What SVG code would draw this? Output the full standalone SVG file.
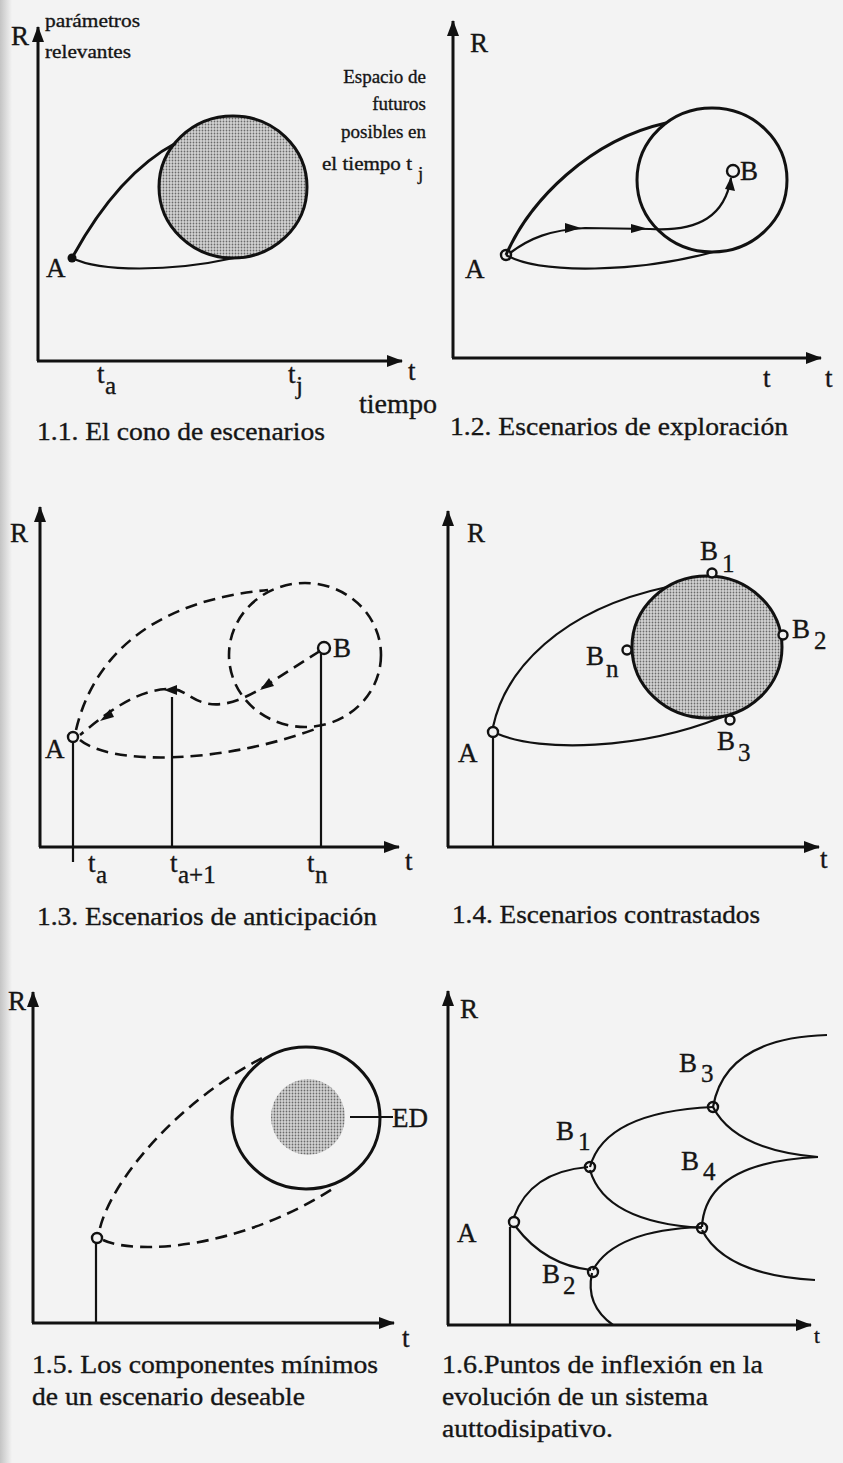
<svg xmlns="http://www.w3.org/2000/svg" width="843" height="1463" viewBox="0 0 843 1463">
<defs>
<linearGradient id="edge" x1="0" y1="0" x2="1" y2="0">
<stop offset="0" stop-color="#c4c4c4"/>
<stop offset="1" stop-color="#f3f3f3"/>
</linearGradient>
<pattern id="dots" width="3" height="3" patternUnits="userSpaceOnUse">
<rect width="3" height="3" fill="#d4d4d4"/>
<circle cx="1.5" cy="1.5" r="0.9" fill="#6a6a6a"/>
</pattern>
<marker id="arr" markerUnits="userSpaceOnUse" markerWidth="16" markerHeight="12" refX="15" refY="6" orient="auto">
<path d="M0,0 L16,6 L0,12 Z" fill="#111"/>
</marker>
<style>
text{font-family:"Liberation Serif","Times New Roman",serif;fill:#151515;stroke:#151515;stroke-width:0.35}
.ax{stroke:#111;stroke-width:3;fill:none;marker-end:url(#arr)}
.ln{stroke:#111;stroke-width:2.2;fill:none}
.th{stroke:#111;stroke-width:3;fill:none}
.dash{stroke:#111;stroke-width:2.6;fill:none;stroke-dasharray:12 7}
.pt{fill:#f3f3f3;stroke:#111;stroke-width:2.4}
.big{font-size:27px}
.sub{font-size:25px}
.cap{font-size:26px}
.sm{font-size:19px}
.ah{fill:#111}
</style>
</defs>
<rect width="843" height="1463" fill="#f3f3f3"/>
<rect width="12" height="1463" fill="url(#edge)"/>

<!-- Figure 1.1 -->
<g id="fig1-1">
<g id="f1-axes"><line class="ax" x1="38" y1="361" x2="38" y2="27"/><line class="ax" x1="37" y1="361" x2="402" y2="361"/></g>
<g id="f1-space"><ellipse cx="233" cy="187" rx="74" ry="71" fill="url(#dots)" stroke="#111" stroke-width="3"/></g>
<g id="f1-A"><circle cx="72" cy="258" r="4.5" fill="#111"/><text class="big" x="46" y="277">A</text></g>
<text class="big" x="11" y="45">R</text>
<text class="sm" x="45" y="27" textLength="95" lengthAdjust="spacingAndGlyphs">parámetros</text>
<text class="sm" x="45" y="58" textLength="86" lengthAdjust="spacingAndGlyphs">relevantes</text>
<text class="sm" x="426" y="83" text-anchor="end">Espacio de</text>
<text class="sm" x="426" y="110" text-anchor="end">futuros</text>
<text class="sm" x="426" y="138" text-anchor="end">posibles en</text>
<text class="sm" x="322" y="170" textLength="90" lengthAdjust="spacingAndGlyphs">el tiempo t</text><text class="sm" x="418" y="180">j</text>
<text class="big" x="97" y="383">t</text><text class="sub" x="105" y="394">a</text>
<text class="big" x="288" y="383">t</text><text class="sub" x="296" y="394">j</text>
<text class="big" x="408" y="380">t</text>
<text class="big" x="359" y="413" textLength="78" lengthAdjust="spacingAndGlyphs">tiempo</text>
<text class="cap" x="37" y="440" textLength="288" lengthAdjust="spacingAndGlyphs">1.1. El cono de escenarios</text>
</g>

<!-- Figure 1.2 -->
<g id="fig1-2">
<g id="f2-axes"><line class="ax" x1="453" y1="358" x2="453" y2="21"/><line class="ax" x1="452" y1="358" x2="821" y2="358"/></g>
<g id="f2-space"><ellipse cx="712" cy="180" rx="75" ry="72" fill="none" stroke="#111" stroke-width="3"/></g>
<g id="f2-A"><circle class="pt" cx="506" cy="255" r="5"/><text class="big" x="465" y="278">A</text></g>
<g id="f2-B"><circle class="pt" cx="733" cy="171" r="6"/><text class="big" x="740" y="180">B</text></g>
<text class="big" x="470" y="52">R</text>
<text class="big" x="763" y="387">t</text>
<text class="big" x="825" y="387">t</text>
<text class="cap" x="450" y="435" textLength="338" lengthAdjust="spacingAndGlyphs">1.2. Escenarios de exploración</text>
</g>

<!-- Figure 1.3 -->
<g id="fig1-3">
<g id="f3-axes"><line class="ax" x1="40" y1="847" x2="40" y2="507"/><line class="ax" x1="39" y1="847" x2="399" y2="847"/></g>
<g id="f3-space"><ellipse class="dash" cx="305" cy="655" rx="76" ry="72" stroke-width="3" stroke-dasharray="16 8"/></g>
<g id="f3-A"><circle class="pt" cx="73" cy="737" r="5"/><text class="big" x="45" y="758">A</text></g>
<g id="f3-B"><circle class="pt" cx="324" cy="648" r="6"/><text class="big" x="333" y="657">B</text></g>
<text class="big" x="10" y="542">R</text>
<text class="big" x="88" y="872">t</text><text class="sub" x="96" y="883">a</text>
<text class="big" x="170" y="872">t</text><text class="sub" x="178" y="883">a+1</text>
<text class="big" x="307" y="872">t</text><text class="sub" x="315" y="883">n</text>
<text class="big" x="405" y="870">t</text>
<text class="cap" x="37" y="925" textLength="340" lengthAdjust="spacingAndGlyphs">1.3. Escenarios de anticipación</text>
</g>

<!-- Figure 1.4 -->
<g id="fig1-4">
<g id="f4-axes"><line class="ax" x1="448" y1="847" x2="448" y2="511"/><line class="ax" x1="447" y1="847" x2="819" y2="847"/></g>
<g id="f4-space"><ellipse cx="707" cy="647" rx="75" ry="71" fill="url(#dots)" stroke="#111" stroke-width="3"/></g>
<g id="f4-A"><circle class="pt" cx="493" cy="732" r="5"/><text class="big" x="458" y="762">A</text></g>
<g id="f4-B1"><circle class="pt" cx="712" cy="573" r="4.5"/><text class="big" x="700" y="560">B</text><text class="sub" x="722" y="572">1</text></g>
<g id="f4-B2"><circle class="pt" cx="783" cy="635" r="4.5"/><text class="big" x="792" y="638">B</text><text class="sub" x="814" y="649">2</text></g>
<g id="f4-Bn"><circle class="pt" cx="627" cy="650" r="4.5"/><text class="big" x="586" y="665">B</text><text class="sub" x="606" y="677">n</text></g>
<g id="f4-B3"><circle class="pt" cx="730" cy="720" r="4.5"/><text class="big" x="717" y="750">B</text><text class="sub" x="738" y="761">3</text></g>
<text class="big" x="467" y="542">R</text>
<text class="big" x="820" y="868">t</text>
<text class="cap" x="452" y="923" textLength="308" lengthAdjust="spacingAndGlyphs">1.4. Escenarios contrastados</text>
</g>

<!-- Figure 1.5 -->
<g id="fig1-5">
<g id="f5-axes"><line class="ax" x1="33" y1="1323" x2="33" y2="992"/><line class="ax" x1="32" y1="1323" x2="394" y2="1323"/></g>
<g id="f5-space"><ellipse cx="306" cy="1118" rx="74" ry="71" fill="none" stroke="#111" stroke-width="3"/><ellipse cx="308" cy="1117" rx="37" ry="38" fill="url(#dots)"/></g>
<g id="f5-ED"><line class="ln" x1="350" y1="1117" x2="393" y2="1117"/><text class="big" x="392" y="1127">ED</text></g>
<g id="f5-A"><circle class="pt" cx="97" cy="1238" r="5"/></g>
<text class="big" x="8" y="1010">R</text>
<text class="big" x="402" y="1347">t</text>
<text class="cap" x="32" y="1373" textLength="346" lengthAdjust="spacingAndGlyphs">1.5. Los componentes mínimos</text>
<text class="cap" x="32" y="1405" textLength="273" lengthAdjust="spacingAndGlyphs">de un escenario deseable</text>
</g>

<!-- Figure 1.6 -->
<g id="fig1-6">
<g id="f6-axes"><line class="ax" x1="448" y1="1325" x2="448" y2="991"/><line class="ax" x1="447" y1="1325" x2="811" y2="1325"/></g>
<g id="f6-A"><circle class="pt" cx="514" cy="1222" r="5"/><text class="big" x="457" y="1242">A</text></g>
<g id="f6-B1"><circle class="pt" cx="590" cy="1167" r="5"/><text class="big" x="556" y="1140">B</text><text class="sub" x="578" y="1150">1</text></g>
<g id="f6-B2"><circle class="pt" cx="593" cy="1272" r="5"/><text class="big" x="542" y="1283">B</text><text class="sub" x="563" y="1294">2</text></g>
<g id="f6-B3"><circle class="pt" cx="713" cy="1107" r="5"/><text class="big" x="679" y="1072">B</text><text class="sub" x="701" y="1082">3</text></g>
<g id="f6-B4"><circle class="pt" cx="702" cy="1228" r="5"/><text class="big" x="681" y="1170">B</text><text class="sub" x="703" y="1180">4</text></g>
<text class="big" x="460" y="1018">R</text>
<text class="sub" x="814" y="1343" style="font-size:21px">t</text>
<text class="cap" x="442" y="1373" textLength="321" lengthAdjust="spacingAndGlyphs">1.6.Puntos de inflexión en la</text>
<text class="cap" x="442" y="1405" textLength="266" lengthAdjust="spacingAndGlyphs">evolución de un sistema</text>
<text class="cap" x="442" y="1437" textLength="171" lengthAdjust="spacingAndGlyphs">auttodisipativo.</text>
</g>

<!-- Connectors -->
<g id="connectors">
<!-- 1.1 cone -->
<path class="th" d="M72,258 C90,225 125,170 176,143"/>
<path class="ln" d="M72,258 C100,272 170,272 234,258"/>
<!-- 1.2 -->
<path class="th" d="M506,255 C530,200 590,140 666,123"/>
<path class="ln" d="M506,255 C540,275 640,272 713,252"/>
<path class="ln" d="M510,253 C530,238 550,230 585,228 L650,229 C700,232 725,215 731,178"/>
<polygon class="ah" points="565,223 581,228 565,233"/>
<polygon class="ah" points="631,224 647,228.5 631,233"/>
<polygon class="ah" points="731,177 735,191 725,189"/>
<!-- 1.3 -->
<path class="dash" d="M76,730 C95,650 160,600 268,590"/>
<path class="dash" d="M80,740 C110,765 220,765 318,728"/>
<path class="dash" d="M320,651 L262,688 C245,698 225,708 205,703 C190,699 185,690 172,689 C140,688 110,710 80,735" stroke-dasharray="10 7"/>
<polygon class="ah" points="260,690 274,686 269,678"/>
<polygon class="ah" points="164,690 177,685 177,695"/>
<polygon class="ah" points="100,721 114,717 110,709"/>
<line class="ln" x1="73" y1="742" x2="73" y2="862"/>
<line class="ln" x1="172" y1="697" x2="172" y2="847"/>
<line class="ln" x1="321" y1="654" x2="321" y2="847"/>
<!-- 1.4 -->
<path class="ln" d="M493,727 C505,670 560,610 667,587"/>
<path class="ln" d="M498,734 C540,752 640,750 722,717"/>
<line class="ln" x1="493" y1="737" x2="493" y2="847"/>
<!-- 1.5 -->
<path class="dash" d="M100,1228 C112,1180 178,1100 268,1055"/>
<path class="dash" d="M103,1240 C135,1255 240,1250 337,1186"/>
<line class="ln" x1="96" y1="1243" x2="96" y2="1323"/>
<!-- 1.6 -->
<line class="ln" x1="510" y1="1227" x2="510" y2="1325"/>
<path class="ln" d="M514,1217 Q530,1172 588,1167"/>
<path class="ln" d="M516,1227 Q545,1265 591,1270"/>
<path class="ln" d="M590,1167 Q605,1112 713,1107"/>
<path class="ln" d="M590,1170 Q605,1222 702,1228"/>
<path class="ln" d="M593,1270 Q615,1230 702,1227"/>
<path class="ln" d="M592,1273 Q585,1305 613,1325"/>
<path class="ln" d="M713,1107 Q725,1038 827,1035"/>
<path class="ln" d="M713,1107 Q735,1150 818,1157"/>
<path class="ln" d="M702,1227 Q705,1162 818,1157"/>
<path class="ln" d="M702,1230 Q725,1275 815,1280"/>
</g>
</svg>
